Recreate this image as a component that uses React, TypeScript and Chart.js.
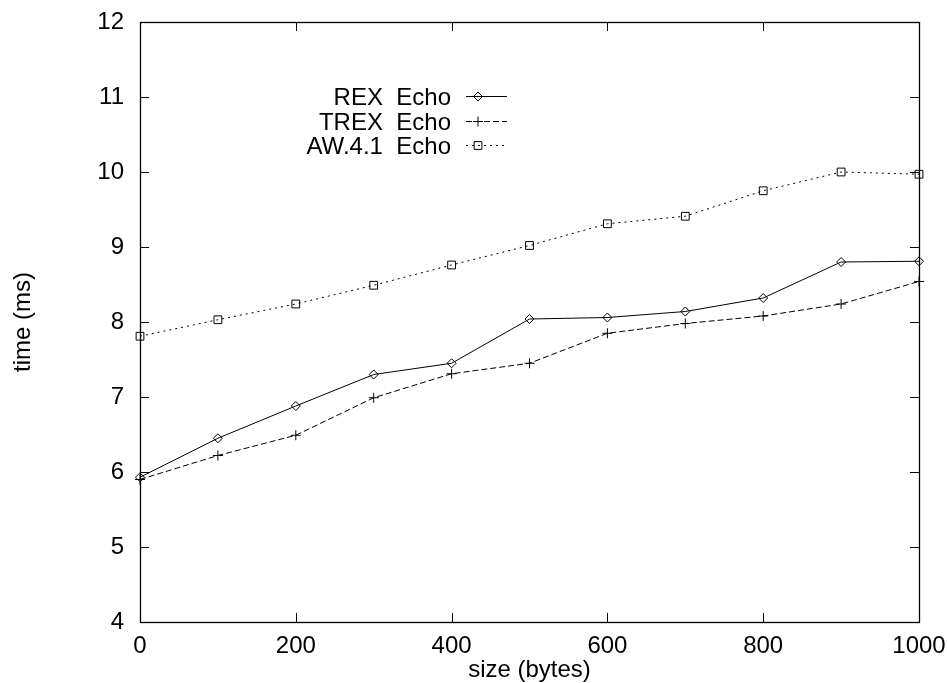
import React, { useEffect, useRef } from "react";
import { Chart, registerables } from "chart.js";
import { drawPoint } from "chart.js/helpers";

Chart.register(...registerables);

const sizes = [0, 100, 200, 300, 400, 500, 600, 700, 800, 900, 1000];
const rexEcho = [5.93, 6.45, 6.88, 7.3, 7.45, 8.04, 8.06, 8.14, 8.32, 8.8, 8.81];
const trexEcho = [5.9, 6.22, 6.49, 6.99, 7.31, 7.45, 7.85, 7.98, 8.08, 8.24, 8.54];
const aw41Echo = [7.81, 8.03, 8.24, 8.49, 8.76, 9.02, 9.31, 9.41, 9.75, 10.0, 9.97];
const seriesNames = ["REX  Echo", "TREX  Echo", "AW.4.1  Echo"];
const xTitle = "size (bytes)";
const yTitle = "time (ms)";

const FONT = "'Liberation Sans', Arial, Helvetica, sans-serif";

const framePlugin = {
  id: "gnuFrame",
  beforeDatasetsDraw(chart: any) {
    const { ctx, chartArea } = chart;
    const { left, right, top, bottom } = chartArea;
    const tl = 9;
    ctx.save();
    ctx.strokeStyle = "#000";
    ctx.lineWidth = 1;
    ctx.setLineDash([]);
    ctx.beginPath();
    const xs = chart.scales.x;
    const ys = chart.scales.y;
    xs.ticks.forEach((t: any) => {
      const px = Math.round(xs.getPixelForValue(t.value)) + 0.5;
      ctx.moveTo(px, bottom);
      ctx.lineTo(px, bottom - tl);
      ctx.moveTo(px, top);
      ctx.lineTo(px, top + tl);
    });
    ys.ticks.forEach((t: any) => {
      const py = Math.round(ys.getPixelForValue(t.value)) + 0.5;
      ctx.moveTo(left, py);
      ctx.lineTo(left + tl, py);
      ctx.moveTo(right, py);
      ctx.lineTo(right - tl, py);
    });
    ctx.stroke();
    ctx.lineWidth = 1.3;
    ctx.strokeRect(Math.round(left) + 0.5, Math.round(top) + 0.5, Math.round(right - left), Math.round(bottom - top));
    ctx.restore();
  },
};

const legendPlugin = {
  id: "gnuLegend",
  afterDatasetsDraw(chart: any) {
    const { ctx } = chart;
    const textRight = 451;
    const lineStart = 466;
    const lineEnd = 507;
    const markX = 478;
    const rowY = [96, 120.5, 144.5];
    ctx.save();
    chart.data.datasets.forEach((ds: any, i: number) => {
      const y = rowY[i];
      ctx.fillStyle = "#000";
      ctx.font = `24px ${FONT}`;
      ctx.textAlign = "right";
      ctx.textBaseline = "middle";
      ctx.setLineDash([]);
      ctx.fillText(ds.label, textRight, y + 2.5);
      ctx.strokeStyle = "#000";
      ctx.lineWidth = 1;
      ctx.setLineDash(ds.borderDash || []);
      ctx.beginPath();
      ctx.moveTo(lineStart, Math.round(y) + 0.5);
      ctx.lineTo(lineEnd, Math.round(y) + 0.5);
      ctx.stroke();
      ctx.setLineDash([]);
      ctx.fillStyle = "rgba(0,0,0,0)";
      drawPoint(ctx, { pointStyle: ds.pointStyle, radius: ds.pointRadius, rotation: 0, borderWidth: 1 }, markX, Math.round(y) + 0.5);
    });
    ctx.restore();
  },
};

export default function App() {
  const canvasRef = useRef<HTMLCanvasElement | null>(null);

  useEffect(() => {
    const canvas = canvasRef.current;
    if (!canvas) return;
    const mk = (vals: number[]) => sizes.map((s, i) => ({ x: s, y: vals[i] }));
    const chart = new Chart(canvas, {
      type: "line",
      data: {
        datasets: [
          {
            label: seriesNames[0],
            data: mk(rexEcho),
            borderColor: "#000",
            borderWidth: 1,
            pointStyle: "rectRot",
            pointRadius: 4.5,
            pointBorderColor: "#000",
            pointBackgroundColor: "rgba(0,0,0,0)",
            pointBorderWidth: 1,
            borderDash: [],
            clip: false,
          },
          {
            label: seriesNames[1],
            data: mk(trexEcho),
            borderColor: "#000",
            borderWidth: 1,
            pointStyle: "cross",
            pointRadius: 5,
            pointBorderColor: "#000",
            pointBackgroundColor: "rgba(0,0,0,0)",
            pointBorderWidth: 1,
            borderDash: [6, 3],
            clip: false,
          },
          {
            label: seriesNames[2],
            data: mk(aw41Echo),
            borderColor: "#000",
            borderWidth: 1,
            pointStyle: "rect",
            pointRadius: 5.5,
            pointBorderColor: "#000",
            pointBackgroundColor: "rgba(0,0,0,0)",
            pointBorderWidth: 1,
            borderDash: [2, 4],
            clip: false,
          },
        ] as any,
      },
      options: {
        animation: false,
        responsive: false,
        maintainAspectRatio: false,
        events: [],
        layout: { padding: { top: 22, right: 28, left: 0, bottom: 0 } },
        plugins: {
          legend: { display: false },
          tooltip: { enabled: false },
        },
        elements: { line: { tension: 0 } },
        scales: {
          x: {
            type: "linear",
            min: 0,
            max: 1000,
            grid: { display: false, drawTicks: false },
            border: { display: false },
            ticks: {
              stepSize: 200,
              padding: 10,
              color: "#000",
              maxRotation: 0,
              font: { family: FONT, size: 24 },
              callback: (v: any) => String(v),
            },
            title: {
              display: true,
              text: xTitle,
              color: "#000",
              font: { family: FONT, size: 24, lineHeight: 1 },
              padding: { top: 0, bottom: 1 },
            },
            afterFit: (s: any) => {
              s.height = 61;
              s.paddingLeft = 0;
              s.paddingRight = 0;
            },
          },
          y: {
            type: "linear",
            min: 4,
            max: 12,
            grid: { display: false, drawTicks: false },
            border: { display: false },
            ticks: {
              stepSize: 1,
              padding: 16,
              color: "#000",
              font: { family: FONT, size: 24 },
              callback: (v: any) => String(v),
            },
            title: {
              display: true,
              text: yTitle,
              color: "#000",
              font: { family: FONT, size: 24, lineHeight: 1 },
              padding: { top: 11, bottom: 0 },
            },
            afterFit: (s: any) => {
              s.width = 140;
              s.paddingTop = 0;
              s.paddingBottom = 0;
            },
          },
        },
      } as any,
      plugins: [framePlugin, legendPlugin],
    });
    return () => chart.destroy();
  }, []);

  return (
    <div style={{ position: "absolute", left: 0, top: 0, width: 947, height: 683, background: "#fff" }}>
      <canvas ref={canvasRef} width={947} height={683} style={{ width: 947, height: 683, display: "block" }} />
    </div>
  );
}
